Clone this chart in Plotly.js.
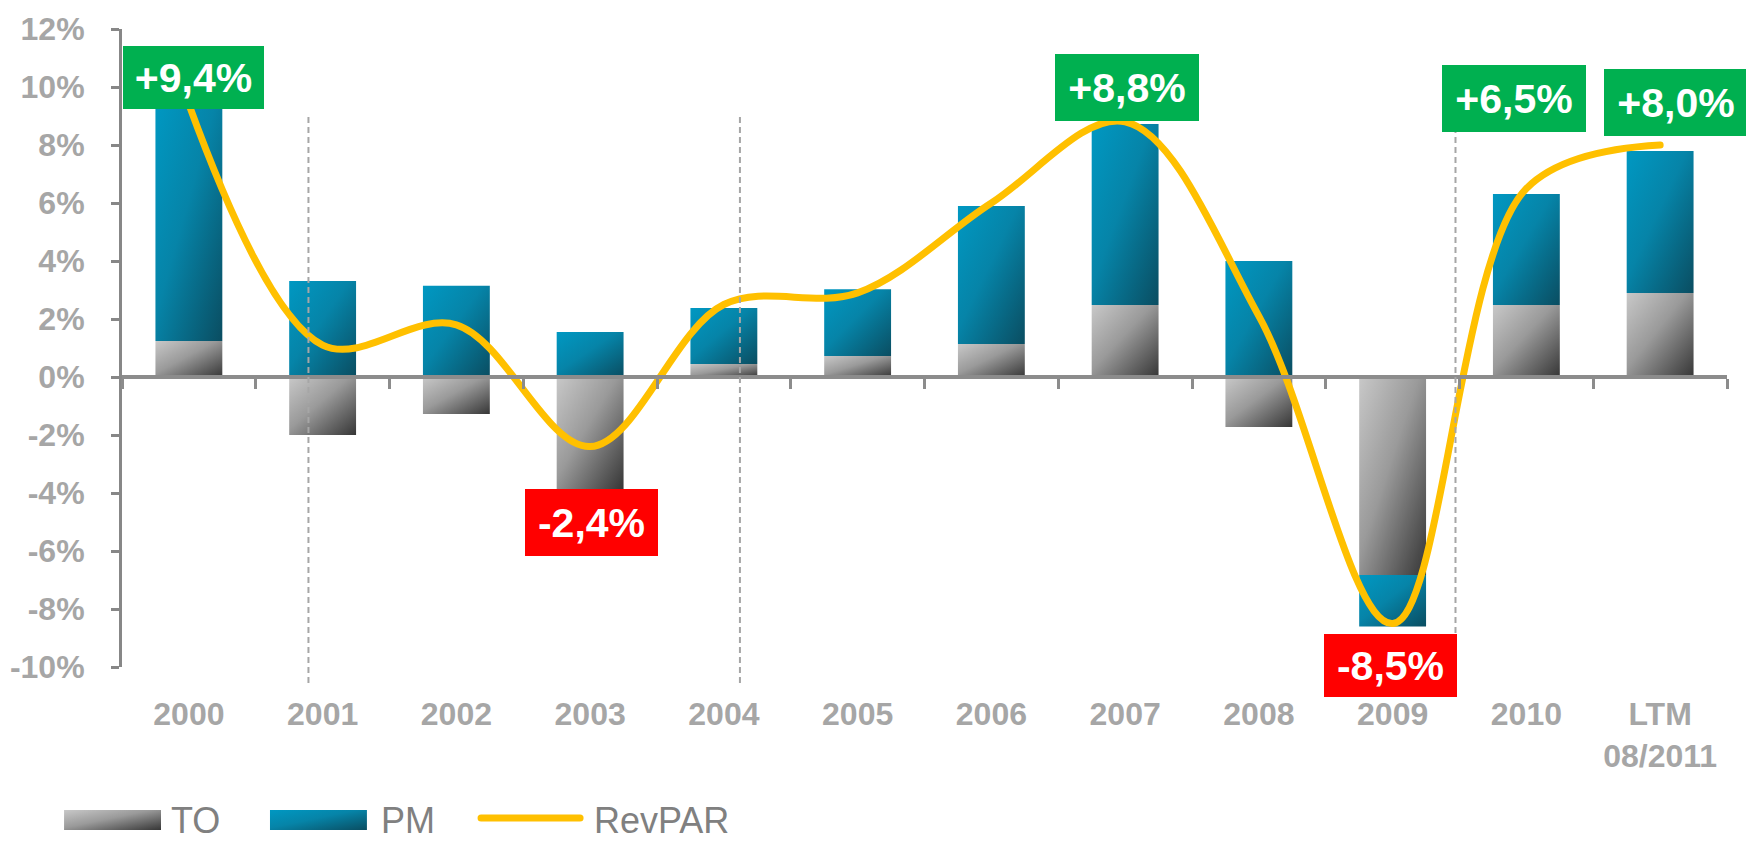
<!DOCTYPE html>
<html>
<head>
<meta charset="utf-8">
<script src="https://cdn.plot.ly/plotly-3.0.1.min.js"></script>
<style>
  html, body { margin: 0; padding: 0; background: #ffffff; }
  #chart { width: 1746px; height: 842px; }
</style>
</head>
<body>
<div id="chart"></div>
<script>
// ---- data ----
const categories = ['2000', '2001', '2002', '2003', '2004', '2005', '2006', '2007', '2008', '2009', '2010', 'LTM 08/2011'];
const categoryLabels = ['2000', '2001', '2002', '2003', '2004', '2005', '2006', '2007', '2008', '2009', '2010', 'LTM<br>08/2011'];
const toValues = [1.24, -2.00, -1.28, -3.86, 0.45, 0.72, 1.14, 2.48, -1.72, -6.83, 2.48, 2.90];
const pmValues = [8.16, 3.31, 3.15, 1.55, 1.93, 2.31, 4.76, 6.24, 4.00, -1.77, 3.83, 4.89];
const revparValues = [9.4, 1.1, 1.8, -2.4, 2.5, 2.9, 6.0, 8.8, 2.1, -8.5, 6.5, 8.0];
const yTickValues = [-10, -8, -6, -4, -2, 0, 2, 4, 6, 8, 10, 12];
const yTickLabels = ['-10%', '-8%', '-6%', '-4%', '-2%', '0%', '2%', '4%', '6%', '8%', '10%', '12%'];
const labelledCategories = ['2000', '2003', '2007', '2009', '2010', 'LTM 08/2011'];
const legendNames = ['TO', 'PM', 'RevPAR'];

// ---- styling / placement ----
const FONT = 'Liberation Sans, Arial, sans-serif';
const GREY_TXT = '#a6a6a6';
const AXIS = '#878787';
const separatorPositions = [0.894, 4.12, 9.47];  // category-index units
const labelPlacement = {
  '2000':        {dx: 0.035, y: 10.33, w: 141, h: 63},
  '2003':        {dx: 0.010, y: -5.02, w: 133, h: 67},
  '2007':        {dx: 0.014, y: 9.98,  w: 144, h: 67},
  '2009':        {dx: -0.016, y: -9.95, w: 133, h: 63},
  '2010':        {dx: -0.092, y: 9.60,  w: 144, h: 67},
  'LTM 08/2011': {dx: 0.119, y: 9.47,  w: 144, h: 67}
};

function fmt(v) {
  return (v > 0 ? '+' : '') + v.toFixed(1).replace('.', ',') + '%';
}

const data = [
  {
    type: 'bar', name: legendNames[0], x: categories, y: toValues,
    marker: {color: '#8f8f8f', line: {width: 0}}, showlegend: false, hoverinfo: 'skip'
  },
  {
    type: 'bar', name: legendNames[1], x: categories, y: pmValues,
    marker: {color: '#07789a', line: {width: 0}}, showlegend: false, hoverinfo: 'skip'
  },
  {
    type: 'scatter', mode: 'lines', name: legendNames[2], x: categories, y: revparValues,
    line: {color: '#ffc000', width: 7, shape: 'spline', smoothing: 1.0},
    showlegend: false, hoverinfo: 'skip'
  },
  {
    type: 'scatter', mode: 'markers', x: categories, y: categories.map(() => 0),
    xaxis: 'x2', yaxis: 'y', marker: {opacity: 0, size: 1},
    showlegend: false, hoverinfo: 'skip'
  }
];

const annotations = [];
labelledCategories.forEach(cat => {
  const i = categories.indexOf(cat);
  const p = labelPlacement[cat];
  const v = revparValues[i];
  annotations.push({
    xref: 'x', yref: 'y', x: i + p.dx, y: p.y,
    xanchor: 'center', yanchor: 'middle',
    text: '<b>' + fmt(v) + '</b>', showarrow: false,
    width: p.w, height: p.h, borderpad: 0, borderwidth: 0,
    bgcolor: v >= 0 ? '#00b050' : '#ff0000',
    align: 'center', valign: 'middle',
    font: {family: FONT, size: 41, color: '#ffffff'}
  });
});

// legend text
const legendTextX = [0.0293, 0.1601, 0.2928];
legendNames.forEach((n, k) => {
  annotations.push({
    xref: 'paper', yref: 'paper', x: legendTextX[k], y: -0.2053,
    xanchor: 'left', yanchor: 'top', showarrow: false, text: n,
    font: {family: FONT, size: 36, color: '#808080'}
  });
});

const shapes = separatorPositions.map(xp => ({
  type: 'line', xref: 'x', yref: 'paper', x0: xp, x1: xp, y0: -0.0251, y1: 0.862,
  line: {color: '#a6a6a6', width: 2, dash: '6px,4px'}, layer: 'above'
}));
shapes.push({type: 'rect', xref: 'paper', yref: 'paper', x0: -0.0361, x1: 0.0243, y0: -0.2555, y1: -0.2241,
  fillcolor: 'rgb(150,150,150)', line: {width: 0}, layer: 'above'});
shapes.push({type: 'rect', xref: 'paper', yref: 'paper', x0: 0.0922, x1: 0.1526, y0: -0.2555, y1: -0.2241,
  fillcolor: 'rgb(8,120,155)', line: {width: 0}, layer: 'above'});
shapes.push({type: 'line', xref: 'paper', yref: 'paper', x0: 0.2237, x1: 0.2854, y0: -0.2367, y1: -0.2367,
  line: {color: 'rgb(255,192,0)', width: 7}, layer: 'above'});

const layout = {
  width: 1746, height: 842,
  margin: {l: 122, r: 19, t: 29, b: 175, pad: 0},
  paper_bgcolor: '#ffffff', plot_bgcolor: '#ffffff',
  barmode: 'relative', bargap: 0.5,
  showlegend: false,
  font: {family: FONT},
  xaxis: {
    type: 'category', range: [-0.5, 11.5], anchor: 'y', side: 'bottom',
    showline: false, showgrid: false, zeroline: false,
    ticks: 'outside', ticklen: 19, tickcolor: 'rgba(0,0,0,0)',
    tickmode: 'array', tickvals: categories, ticktext: categoryLabels,
    tickfont: {family: FONT, size: 32, color: GREY_TXT, weight: 'bold'},
    fixedrange: true
  },
  xaxis2: {
    type: 'category', overlaying: 'x', matches: 'x', anchor: 'free', position: 10 / 22,
    showline: true, linecolor: '#8c8c8c', linewidth: 4,
    ticks: 'outside', tickson: 'boundaries', ticklen: 10, tickwidth: 3, tickcolor: '#8c8c8c',
    showticklabels: false, showgrid: false, zeroline: false
  },
  yaxis: {
    range: [-10, 12], showgrid: false, zeroline: false,
    showline: true, linecolor: AXIS, linewidth: 3,
    ticks: 'outside', ticklen: 8, tickwidth: 3, tickcolor: AXIS,
    tickmode: 'array', tickvals: yTickValues, ticktext: yTickLabels,
    ticklabelstandoff: 20,
    tickfont: {family: FONT, size: 32, color: GREY_TXT, weight: 'bold'},
    fixedrange: true
  },
  annotations: annotations,
  shapes: shapes
};

Plotly.newPlot('chart', data, layout, {staticPlot: true, displayModeBar: false}).then(gd => {
  const NS = 'http://www.w3.org/2000/svg';
  const svg = gd.querySelector('.main-svg');
  let defs = svg.querySelector('defs');
  if (!defs) { defs = document.createElementNS(NS, 'defs'); svg.insertBefore(defs, svg.firstChild); }
  function grad(id, stops) {
    const g = document.createElementNS(NS, 'linearGradient');
    g.setAttribute('id', id);
    g.setAttribute('x1', '0'); g.setAttribute('y1', '0');
    g.setAttribute('x2', '1'); g.setAttribute('y2', '1');
    stops.forEach(([o, c]) => {
      const s = document.createElementNS(NS, 'stop');
      s.setAttribute('offset', o); s.setAttribute('stop-color', c);
      g.appendChild(s);
    });
    defs.appendChild(g);
  }
  grad('gTO', [[0, '#c8c8c8'], [0.45, '#9a9a9a'], [1, '#363636']]);
  grad('gPM', [[0, '#0098c2'], [0.45, '#0684a8'], [1, '#0a4d61']]);
  const traces = gd.querySelectorAll('.barlayer .trace');
  if (traces[0]) traces[0].querySelectorAll('path').forEach(p => { p.style.fill = 'url(#gTO)'; });
  if (traces[1]) traces[1].querySelectorAll('path').forEach(p => { p.style.fill = 'url(#gPM)'; });
  gd.querySelectorAll('.shapelayer path').forEach(p => {
    const f = (p.style.fill || '').replace(/\s/g, '');
    if (f === 'rgb(150,150,150)') p.style.fill = 'url(#gTO)';
    if (f === 'rgb(8,120,155)') p.style.fill = 'url(#gPM)';
    const s = (p.style.stroke || '').replace(/\s/g, '');
    if (s === 'rgb(255,192,0)') p.style.strokeLinecap = 'round';
  });
  gd.querySelectorAll('.scatterlayer .js-line').forEach(p => { p.style.strokeLinecap = 'round'; });
});
</script>
</body>
</html>
